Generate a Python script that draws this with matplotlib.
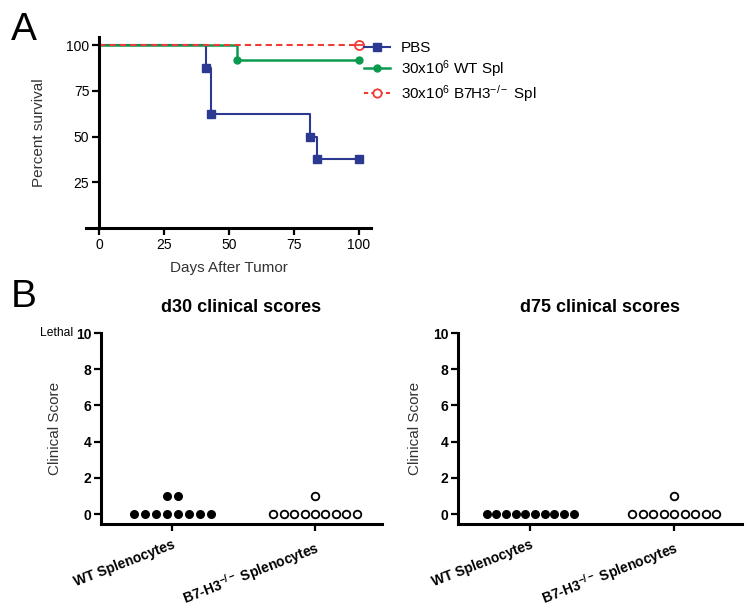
import matplotlib
matplotlib.use("Agg")
import matplotlib.pyplot as plt
from matplotlib.lines import Line2D

plt.rcParams['font.family'] = ['Liberation Sans', 'DejaVu Sans']
plt.rcParams['mathtext.fontset'] = 'custom'
plt.rcParams['mathtext.rm'] = 'Liberation Sans'
plt.rcParams['mathtext.bf'] = 'Liberation Sans:bold'
plt.rcParams['mathtext.it'] = 'Liberation Sans:italic'

# --- panel A: survival curves ---
pbs_days = [0, 41, 43, 81, 84, 100]
pbs_surv = [100, 87.5, 62.5, 50, 37.5, 37.5]
wt_days = [0, 53, 100]
wt_surv = [100, 91.7, 91.7]
ko_days = [0, 100]
ko_surv = [100, 100]

surv_labels = ['PBS', r'30x10$^{6}$ WT Spl', r'30x10$^{6}$ B7H3$^{-/-}$ Spl']
surv_xticks = [0, 25, 50, 75, 100]
surv_yticks = [25, 50, 75, 100]

# --- panel B: clinical scores ---
groups = ['WT Splenocytes', r'B7-H3$^{\mathbf{-/-}}$ Splenocytes']
d30_wt = [0, 0, 0, 0, 0, 0, 0, 0, 1, 1]
d30_ko = [0, 0, 0, 0, 0, 0, 0, 0, 0, 1]
d75_wt = [0, 0, 0, 0, 0, 0, 0, 0, 0, 0]
d75_ko = [0, 0, 0, 0, 0, 0, 0, 0, 0, 1]
score_ticks = [0, 2, 4, 6, 8, 10]

BLUE = '#2B3990'
GREEN = '#0C9A50'
RED = '#EE3B33'
LABEL = '#333333'

W, H = 749, 614
fig = plt.figure(figsize=(W / 100, H / 100), dpi=100)


def px_axes(x0, x1, y_top, y_bot):
    return fig.add_axes([x0 / W, 1 - y_bot / H, (x1 - x0) / W, (y_bot - y_top) / H])


# ---------- A ----------
ax = px_axes(86, 371, 37, 228)
ax.step(pbs_days, pbs_surv, where='post', color=BLUE, lw=1.5)
ax.plot(pbs_days[1:], pbs_surv[1:], ls='none', marker='s', ms=6, color=BLUE)
ax.step(wt_days, wt_surv, where='post', color=GREEN, lw=1.8)
ax.plot(wt_days[1:], wt_surv[1:], ls='none', marker='o', ms=5, color=GREEN)
ax.plot(ko_days, ko_surv, color=RED, lw=1.5, ls=(0, (3, 2)))
ax.plot(ko_days[1:], ko_surv[1:], ls='none', marker='o', ms=6.5, mfc='white',
        mec=RED, mew=1.3)
ax.plot(ko_days[1:], ko_surv[1:], ls='none', marker='_', ms=6, mew=1.3, color=RED)

ax.set_xlim(-5, 104.6)
ax.set_ylim(0, 104.5)
ax.spines['left'].set_position(('data', 0))
for s in ['top', 'right']:
    ax.spines[s].set_visible(False)
for s in ['left', 'bottom']:
    ax.spines[s].set_linewidth(2.2)
ax.set_xticks(surv_xticks)
ax.set_yticks(surv_yticks)
ax.tick_params(direction='out', length=5, width=1.6, labelsize=10, pad=2)
ax.set_ylabel('Percent survival', fontsize=11, color=LABEL, va='center')
ax.yaxis.set_label_coords(-0.165, 0.5)
ax.set_xlabel('Days After Tumor', fontsize=11, color=LABEL, va='center')
ax.xaxis.set_label_coords(0.5, -0.21)

handles = [
    Line2D([], [], color=BLUE, lw=1.5, marker='s', ms=6),
    Line2D([], [], color=GREEN, lw=1.8, marker='o', ms=5),
    Line2D([], [], color=RED, lw=1.5, ls=(0, (2, 1.5)), marker='o', ms=6,
           mfc='white', mec=RED, mew=1.3),
]
fig.legend(handles, surv_labels, loc='upper left',
           bbox_to_anchor=(364 / W, 1 - 41 / H), frameon=False, fontsize=11,
           handlelength=1.7, handletextpad=0.7, labelspacing=0.2,
           borderaxespad=0, borderpad=0)

fig.text(24 / W, 1 - 30 / H, 'A', fontsize=28, ha='center', va='center')
fig.text(24 / W, 1 - 297 / H, 'B', fontsize=28, ha='center', va='center')


# ---------- B ----------
def spread(center, values, spacing):
    xs = []
    seen = {}
    counts = {v: values.count(v) for v in set(values)}
    for v in values:
        i = seen.get(v, 0)
        seen[v] = i + 1
        xs.append(center + (i - (counts[v] - 1) / 2) * spacing)
    return xs


def score_panel(x0, x1, title, wt, ko, sp_wt, sp_ko, label_x, lethal=False):
    ax = px_axes(x0, x1, 333, 524)
    ax.scatter(spread(0, wt, sp_wt), wt, s=30, color='black', zorder=3,
               clip_on=False)
    ax.scatter(spread(1, ko, sp_ko), ko, s=30, facecolor='white',
               edgecolor='black', linewidth=1.3, zorder=3, clip_on=False)
    ax.set_xlim(-0.5, 1.47)
    ax.set_ylim(-0.55, 10)
    for s in ['top', 'right']:
        ax.spines[s].set_visible(False)
    for s in ['left', 'bottom']:
        ax.spines[s].set_linewidth(2.2)
    ax.set_yticks(score_ticks)
    ax.set_xticks([0, 1])
    ax.set_xticklabels(groups, rotation=21, ha='right', rotation_mode='anchor',
                       fontweight='bold', fontsize=9.5)
    ax.tick_params(direction='out', length=5, width=1.6, labelsize=10, pad=2)
    ax.tick_params(axis='x', pad=5)
    for t in ax.get_yticklabels():
        t.set_fontweight('bold')
    ax.set_ylabel('Clinical Score', fontsize=11, color=LABEL, va='center')
    ax.yaxis.set_label_coords((label_x - x0) / (x1 - x0), 0.5)
    ax.text(0.5, 1 + 26 / 191, title, transform=ax.transAxes, ha='center',
            va='center', fontsize=13, fontweight='bold')
    if lethal:
        ax.annotate('Lethal', xy=(0, 10), xycoords=('axes fraction', 'data'),
                    xytext=(-20, 0), textcoords='offset points', ha='right',
                    va='center', fontsize=8.7)
    return ax


score_panel(101, 382, 'd30 clinical scores', d30_wt, d30_ko, 0.077, 0.073,
            55, lethal=True)
score_panel(458, 742, 'd75 clinical scores', d75_wt, d75_ko, 0.067, 0.073,
            415)

fig.savefig('out.png', dpi=100)
